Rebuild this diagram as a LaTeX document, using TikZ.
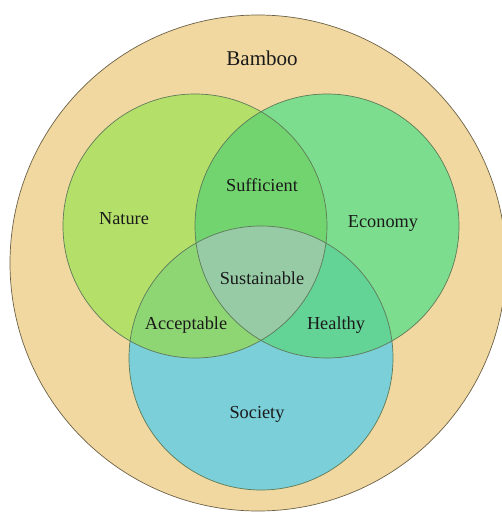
\documentclass[tikz,border=0pt]{standalone}
\usepackage{fontspec}
\setmainfont{Liberation Serif}
\definecolor{bamboo}{HTML}{F0D8A0}
\definecolor{nat}{HTML}{B4E06A}
\definecolor{eco}{HTML}{7DDD8E}
\definecolor{soc}{HTML}{7ACFD8}
\definecolor{suf}{HTML}{72D46E}
\definecolor{sus}{HTML}{96CBA6}
\definecolor{acc}{HTML}{8ED673}
\definecolor{hea}{HTML}{63D396}
\definecolor{edge}{HTML}{5E7A58}
\definecolor{txt}{HTML}{1A1A1A}
\tikzset{
  lbl/.style={font=\fontsize{18.3}{20}\selectfont, text=txt, inner sep=0pt},
  ttl/.style={font=\fontsize{21}{24}\selectfont, text=txt, inner sep=0pt},
  ring/.style={draw=edge, line width=0.7pt}
}
\begin{document}
\begin{tikzpicture}[x=1pt,y=-1pt]
\useasboundingbox (0,0) rectangle (502,512);
\begin{scope}
\clip (0,0) rectangle (502,512);
\fill[bamboo] (258,263) circle (248);
\draw[draw=black!55!bamboo, line width=0.7pt] (258,263) circle (248);
\end{scope}
% base circles
\fill[nat] (195,226) circle (132);
\fill[eco] (327,226) circle (132);
\fill[soc] (261,358) circle (132);
% pairwise intersections
\begin{scope}
\clip (195,226) circle (132);
\fill[suf] (327,226) circle (132);
\fill[acc] (261,358) circle (132);
\end{scope}
\begin{scope}
\clip (327,226) circle (132);
\fill[hea] (261,358) circle (132);
\end{scope}
\begin{scope}
\clip (195,226) circle (132);
\clip (327,226) circle (132);
\fill[sus] (261,358) circle (132);
\end{scope}
% outlines
\draw[ring] (195,226) circle (132);
\draw[ring] (327,226) circle (132);
\draw[ring] (261,358) circle (132);
% labels
\node[ttl] (bamboo) at (262,58) {Bamboo};
\node[lbl] (nature) at (124,219) {Nature};
\node[lbl] (economy) at (383,223) {Economy};
\node[lbl] (society) at (257,414) {Society};
\node[lbl] (sufficient) at (262,185) {Sufficient};
\node[lbl] (sustainable) at (262,278) {Sustainable};
\node[lbl] (acceptable) at (186,325) {Acceptable};
\node[lbl] (healthy) at (336,325) {Healthy};
\end{tikzpicture}
\end{document}
